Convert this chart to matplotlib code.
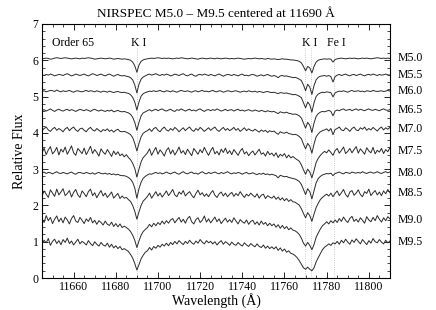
import numpy as np
import matplotlib
matplotlib.use('Agg')
import matplotlib.pyplot as plt
import matplotlib.ticker as ticker

plt.rcParams['font.family'] = ['Liberation Serif', 'DejaVu Serif']

# wavelength grid (1 A steps) 11645 .. 11810
wave_start = 11645

# normalized flux in percent of continuum (1 A sampling)
m50 = [99, 100, 101, 100, 98, 99, 101, 102, 101, 100,
       101, 102, 101, 100, 99, 100, 101, 100, 99, 101,
       100, 101, 102, 101, 100, 98, 99, 100, 101, 100,
       99, 100, 101, 100, 98, 99, 100, 99, 98, 99,
       98, 97, 95, 90, 80, 62, 82, 92, 96, 98,
       99, 100, 101, 100, 101, 102, 101, 100, 101, 100,
       101, 100, 99, 100, 101, 100, 102, 101, 100, 99,
       100, 101, 100, 99, 98, 100, 101, 100, 99, 100,
       101, 100, 99, 101, 100, 99, 100, 101, 100, 99,
       100, 99, 100, 101, 100, 99, 98, 99, 100, 99,
       100, 101, 100, 99, 100, 99, 98, 100, 99, 98,
       99, 98, 97, 98, 99, 98, 98, 97, 96, 96,
       95, 94, 92, 88, 78, 66, 78, 74, 60, 78,
       90, 95, 97, 98, 99, 98, 99, 98, 90, 97,
       99, 100, 101, 100, 99, 100, 101, 100, 101, 100,
       99, 100, 101, 100, 101, 100, 99, 100, 101, 102,
       101, 100, 101, 100, 101, 100]

m55 = [100, 98, 101, 99, 102, 100, 97, 99, 101, 100,
       98, 101, 103, 100, 97, 99, 102, 100, 98, 100,
       102, 99, 97, 100, 103, 101, 98, 100, 102, 99,
       97, 100, 102, 99, 96, 99, 101, 98, 97, 98,
       96, 95, 92, 86, 72, 50, 74, 88, 94, 97,
       100, 102, 99, 101, 103, 100, 98, 101, 99, 102,
       100, 97, 99, 102, 100, 98, 101, 103, 99, 97,
       100, 102, 98, 96, 100, 101, 99, 102, 100, 98,
       101, 99, 97, 100, 102, 99, 96, 99, 101, 100,
       98, 101, 99, 97, 100, 102, 98, 99, 97, 100,
       101, 99, 96, 98, 100, 97, 99, 101, 98, 96,
       98, 96, 92, 97, 98, 96, 97, 95, 94, 92,
       93, 91, 88, 84, 72, 56, 74, 66, 46, 70,
       86, 93, 96, 97, 98, 96, 98, 95, 80, 95,
       99, 101, 98, 100, 102, 99, 97, 100, 101, 98,
       100, 102, 99, 97, 100, 101, 99, 102, 100, 98,
       101, 99, 100, 102, 100, 99]

m60 = [99, 101, 98, 100, 102, 101, 99, 103, 100, 98,
       101, 99, 100, 102, 99, 97, 100, 101, 99, 98,
       100, 102, 99, 101, 100, 98, 101, 99, 97, 100,
       99, 97, 100, 98, 96, 98, 99, 97, 96, 97,
       95, 94, 90, 83, 70, 48, 70, 86, 93, 96,
       98, 100, 99, 101, 99, 100, 102, 99, 98, 101,
       100, 98, 101, 99, 97, 100, 102, 100, 99, 101,
       99, 97, 100, 101, 98, 100, 102, 99, 100, 98,
       100, 102, 99, 98, 101, 100, 97, 99, 101, 100,
       98, 100, 101, 99, 97, 99, 100, 98, 101, 99,
       98, 100, 97, 99, 98, 96, 98, 99, 97, 96,
       97, 95, 93, 96, 95, 94, 95, 93, 92, 90,
       91, 89, 86, 82, 68, 54, 70, 62, 42, 68,
       85, 92, 95, 97, 96, 98, 97, 96, 84, 95,
       98, 100, 99, 101, 99, 97, 100, 102, 99, 100,
       101, 99, 100, 98, 101, 100, 99, 102, 100, 99,
       100, 101, 99, 100, 102, 100]

m65 = [98, 101, 97, 100, 103, 99, 96, 100, 102, 99,
       97, 100, 102, 98, 101, 99, 96, 99, 102, 100,
       98, 101, 99, 96, 100, 102, 99, 97, 100, 98,
       96, 99, 97, 100, 95, 97, 99, 96, 95, 96,
       94, 92, 88, 80, 66, 44, 66, 84, 92, 95,
       98, 101, 97, 100, 102, 98, 101, 103, 99, 97,
       100, 102, 98, 96, 101, 99, 103, 100, 97, 100,
       102, 98, 100, 97, 101, 103, 99, 96, 100, 101,
       98, 101, 99, 103, 100, 97, 99, 102, 98, 100,
       101, 97, 100, 102, 98, 100, 97, 99, 101, 98,
       97, 100, 98, 96, 99, 97, 95, 98, 96, 95,
       96, 93, 90, 95, 93, 92, 94, 91, 90, 88,
       89, 87, 84, 78, 64, 50, 66, 58, 38, 64,
       82, 90, 94, 96, 95, 97, 99, 96, 84, 97,
       100, 98, 101, 103, 99, 100, 102, 98, 101, 103,
       99, 102, 100, 98, 101, 103, 100, 99, 102, 100,
       98, 101, 103, 100, 99, 101]

m70 = [96, 102, 106, 98, 94, 101, 105, 97, 102, 98,
       93, 101, 105, 96, 102, 106, 98, 94, 101, 103,
       97, 93, 101, 105, 98, 95, 102, 97, 93, 99,
       96, 101, 94, 98, 92, 97, 100, 94, 93, 94,
       92, 89, 85, 77, 61, 40, 61, 79, 89, 93,
       96, 101, 94, 102, 105, 97, 93, 101, 106, 98,
       95, 102, 97, 105, 100, 93, 99, 104, 96, 102,
       106, 98, 94, 102, 97, 105, 100, 94, 99, 104,
       97, 102, 106, 98, 94, 100, 105, 97, 102, 96,
       100, 105, 97, 102, 94, 99, 104, 96, 101, 97,
       95, 100, 96, 92, 98, 94, 97, 91, 96, 93,
       95, 90, 86, 93, 90, 89, 92, 88, 87, 85,
       86, 84, 80, 74, 59, 46, 61, 53, 34, 59,
       79, 87, 93, 96, 98, 101, 95, 102, 85, 99,
       102, 106, 98, 96, 104, 100, 94, 102, 106, 98,
       96, 104, 100, 106, 97, 102, 98, 105, 100, 95,
       102, 106, 98, 104, 100, 105]

m75 = [94, 108, 90, 103, 112, 92, 99, 110, 89, 105,
       97, 111, 91, 102, 114, 95, 88, 107, 100, 93,
       108, 90, 101, 113, 93, 104, 96, 86, 106, 97,
       91, 104, 95, 85, 100, 90, 98, 87, 92, 84,
       90, 82, 76, 66, 52, 28, 50, 70, 82, 88,
       95, 106, 88, 100, 110, 91, 103, 96, 86, 102,
       109, 92, 103, 89, 99, 111, 94, 101, 90, 105,
       96, 87, 107, 99, 91, 104, 95, 110, 98, 88,
       101, 110, 92, 99, 89, 105, 96, 108, 93, 101,
       90, 104, 96, 88, 100, 107, 92, 98, 87, 95,
       100, 89, 97, 105, 91, 95, 86, 99, 90, 94,
       86, 95, 82, 91, 86, 93, 81, 89, 81, 85,
       80, 76, 72, 62, 48, 36, 50, 42, 26, 46,
       68, 80, 88, 94, 99, 95, 103, 96, 88, 101,
       107, 94, 102, 111, 93, 99, 107, 95, 104, 112,
       94, 106, 99, 91, 109, 100, 95, 110, 92, 102,
       97, 107, 93, 104, 98, 109]

m80 = [99, 102, 98, 101, 100, 97, 100, 103, 99, 98,
       101, 99, 97, 100, 102, 98, 96, 100, 101, 99,
       98, 101, 99, 97, 100, 96, 99, 101, 98, 97,
       99, 96, 98, 95, 97, 94, 96, 93, 92, 92,
       90, 87, 82, 74, 58, 30, 56, 74, 85, 90,
       94, 97, 96, 99, 101, 98, 100, 97, 99, 102,
       99, 97, 100, 102, 98, 96, 100, 103, 99, 97,
       100, 102, 98, 99, 96, 100, 103, 99, 97, 101,
       98, 100, 102, 99, 97, 101, 98, 100, 103, 99,
       97, 100, 98, 101, 99, 96, 99, 101, 97, 98,
       100, 97, 95, 98, 96, 99, 95, 97, 94, 96,
       94, 92, 86, 93, 91, 89, 90, 87, 86, 84,
       83, 80, 76, 68, 54, 40, 56, 48, 28, 50,
       72, 84, 90, 94, 96, 98, 97, 99, 92, 98,
       100, 102, 99, 97, 101, 100, 98, 102, 100, 99,
       101, 99, 103, 100, 98, 101, 102, 99, 100, 103,
       100, 98, 101, 103, 100, 102]

m85 = [92, 106, 97, 88, 109, 100, 91, 111, 95, 103,
       112, 93, 99, 107, 89, 102, 110, 95, 88, 106,
       99, 90, 104, 111, 93, 101, 87, 98, 107, 92,
       100, 88, 95, 103, 86, 93, 99, 85, 92, 86,
       88, 82, 77, 66, 50, 28, 48, 66, 78, 84,
       91, 100, 86, 95, 104, 92, 100, 89, 97, 106,
       93, 101, 110, 95, 90, 103, 97, 107, 92, 99,
       104, 94, 87, 99, 108, 95, 101, 91, 98, 90,
       100, 107, 94, 88, 98, 103, 92, 100, 90, 97,
       102, 91, 99, 93, 104, 95, 88, 97, 92, 100,
       94, 89, 98, 86, 94, 97, 85, 93, 89, 86,
       92, 83, 89, 81, 87, 79, 85, 77, 82, 76,
       75, 71, 67, 57, 44, 32, 46, 38, 22, 42,
       60, 72, 82, 88, 93, 97, 92, 100, 90, 99,
       106, 93, 101, 110, 96, 89, 103, 107, 94, 100,
       109, 96, 90, 104, 99, 111, 93, 101, 107, 95,
       103, 93, 106, 98, 110, 101]

m90 = [104, 93, 112, 98, 107, 90, 102, 111, 95, 105,
       92, 108, 100, 89, 104, 112, 97, 93, 107, 99,
       90, 103, 96, 107, 92, 99, 88, 98, 93, 86,
       97, 88, 85, 94, 82, 90, 81, 89, 79, 83,
       79, 75, 68, 58, 44, 24, 42, 58, 68, 74,
       79, 88, 81, 91, 84, 93, 87, 97, 89, 98,
       91, 100, 104, 92, 100, 107, 94, 102, 91, 104,
       110, 95, 89, 101, 106, 93, 99, 111, 94, 103,
       92, 100, 108, 95, 103, 90, 98, 105, 94, 101,
       93, 106, 97, 89, 101, 95, 91, 100, 88, 96,
       99, 88, 95, 86, 97, 88, 93, 84, 91, 84,
       89, 80, 87, 77, 85, 76, 82, 73, 78, 72,
       70, 66, 60, 50, 36, 28, 38, 30, 18, 32,
       52, 64, 75, 84, 89, 95, 89, 98, 92, 100,
       93, 104, 96, 108, 99, 93, 104, 110, 96, 102,
       94, 106, 99, 91, 109, 100, 95, 107, 98, 112,
       102, 94, 106, 98, 109, 103]

m95 = [94, 104, 97, 109, 90, 101, 107, 95, 103, 92,
       106, 98, 110, 95, 102, 91, 99, 107, 94, 101,
       97, 91, 103, 95, 89, 100, 93, 88, 98, 91,
       88, 96, 85, 93, 83, 89, 81, 87, 78, 81,
       77, 73, 65, 55, 40, 22, 37, 53, 63, 71,
       75, 84, 77, 87, 82, 90, 85, 93, 88, 96,
       89, 98, 92, 101, 94, 103, 97, 92, 101, 95,
       104, 97, 93, 102, 96, 106, 99, 94, 103, 97,
       101, 94, 100, 91, 98, 103, 93, 100, 96, 90,
       99, 93, 90, 98, 92, 88, 97, 91, 87, 95,
       90, 86, 94, 87, 84, 91, 82, 88, 81, 86,
       80, 86, 76, 83, 74, 80, 71, 75, 68, 66,
       62, 56, 48, 38, 28, 24, 30, 24, 20, 28,
       44, 56, 67, 78, 85, 89, 94, 90, 97, 94,
       101, 93, 104, 97, 107, 99, 93, 105, 98, 108,
       101, 94, 106, 99, 92, 103, 96, 109, 100, 97,
       106, 99, 94, 104, 97, 102]

spectra = [m50, m55, m60, m65, m70, m75, m80, m85, m90, m95]
sptypes = ['M5.0', 'M5.5', 'M6.0', 'M6.5', 'M7.0',
           'M7.5', 'M8.0', 'M8.5', 'M9.0', 'M9.5']
offsets = [5.05, 4.6, 4.15, 3.63, 3.1, 2.5, 1.9, 1.34, 0.6, 0.0]

line_waves = [11690.2, 11769.6, 11772.8, 11783.3]
line_labels = [('K I', 11690.6), ('K I', 11772.0), ('Fe I', 11784.5)]

fig = plt.figure(figsize=(4.36, 3.10), dpi=100)
ax = fig.add_axes([0.0963, 0.1032, 0.798, 0.8194])

# dotted marker lines for the atomic features
for lw_ in line_waves:
    ax.plot([lw_, lw_], [0.05, 6.35], color='#bbbbbb', linestyle=':', linewidth=0.6, zorder=1)

for flux, off, name in zip(spectra, offsets, sptypes):
    f = np.array(flux) / 100.0 + off
    w = wave_start + np.arange(len(f))
    ax.plot(w, f, color='#2a2a2a', linewidth=0.7, zorder=2)
    ax.text(1.022, (off + 1.0) / 7.0, name, transform=ax.transAxes,
            fontsize=8.5, va='center', ha='left', clip_on=False)

ax.text(11649.7, 6.48, 'Order 65', fontsize=8.5, va='center', ha='left')
for lab, x in line_labels:
    ax.text(x, 6.48, lab, fontsize=8.5, va='center', ha='center')

ax.set_xlim(11645, 11810)
ax.set_ylim(0, 7)
ax.xaxis.set_major_locator(ticker.MultipleLocator(20))
ax.xaxis.set_minor_locator(ticker.MultipleLocator(5))
ax.yaxis.set_major_locator(ticker.MultipleLocator(1))
ax.yaxis.set_minor_locator(ticker.MultipleLocator(0.2))
ax.tick_params(which='both', direction='in', top=True, right=True, labelsize=8.5, pad=2.5)
ax.tick_params(which='major', length=4, width=0.6)
ax.tick_params(which='minor', length=2, width=0.5)
for s in ax.spines.values():
    s.set_linewidth(0.8)

ax.set_xlabel('Wavelength (Å)', fontsize=10, labelpad=0)
ax.set_ylabel('Relative Flux', fontsize=10, labelpad=5)
ax.set_title('NIRSPEC M5.0 – M9.5 centered at 11690 Å', fontsize=9.5, pad=5)

fig.savefig('out.png', dpi=100)
